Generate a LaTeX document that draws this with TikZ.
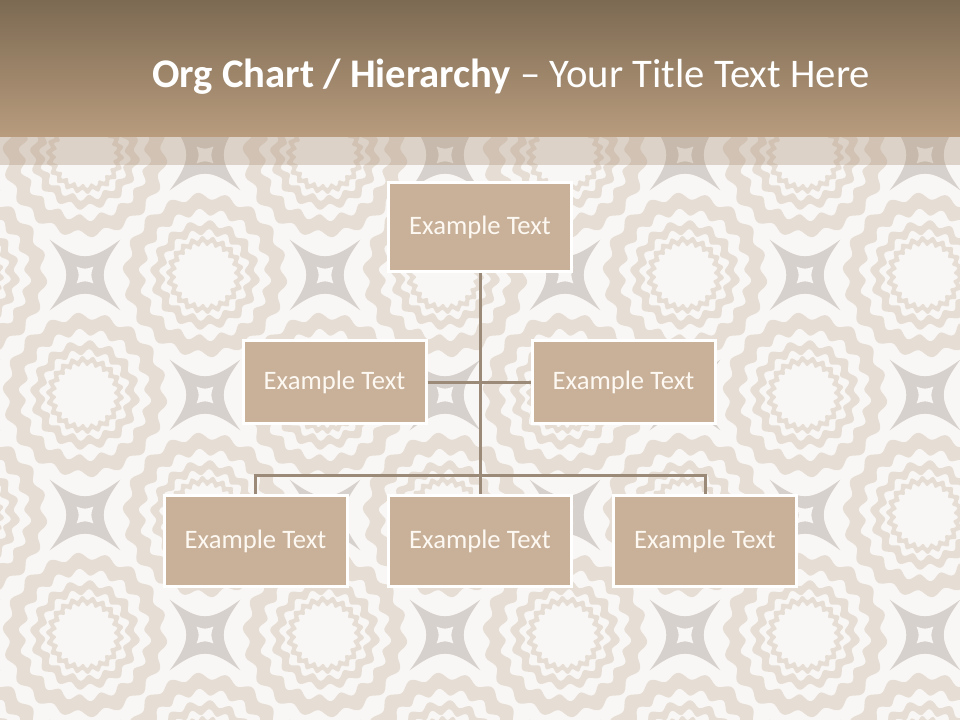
\documentclass[tikz,border=0pt]{standalone}
\usepackage{fontspec}
\setmainfont{Carlito}
\usetikzlibrary{positioning}
\definecolor{pagebg}{RGB}{249,247,245}
\definecolor{ringtan}{RGB}{230,222,213}
\definecolor{stargrey}{RGB}{214,209,204}
\definecolor{headtop}{RGB}{124,106,82}
\definecolor{headbot}{RGB}{185,156,126}
\definecolor{veil}{RGB}{175,150,125}
\definecolor{boxtan}{RGB}{200,176,153}
\definecolor{linktan}{RGB}{155,138,120}
\definecolor{boxtext}{RGB}{253,249,242}

% one wavy ring: outer r, outer amp, inner r, inner amp, bumps
\newcommand\waveband[5]{%
  \fill[ringtan,even odd rule] plot[domain=0:360,samples=181] (\x:{#1+#2*sin(#5*\x)}) -- cycle
    plot[domain=0:360,samples=181] (\x:{#3+#4*sin(#5*\x)}) -- cycle;}
\newcommand\rosette[2]{\begin{scope}[shift={(#1,#2)}]
  \waveband{79}{3.5}{63}{3.5}{18}
  \waveband{52}{3}{43}{3}{16}
  \waveband{37}{2}{31}{2}{22}
\end{scope}}
\newcommand\sparkle[2]{\begin{scope}[shift={(#1,#2)}]
  \fill[stargrey] (45:50) .. controls (70:14) and (110:14) .. (135:50)
    .. controls (160:14) and (200:14) .. (225:50)
    .. controls (250:14) and (290:14) .. (315:50)
    .. controls (340:14) and (20:14) .. (45:50) -- cycle;
  \fill[pagebg] (45:12) .. controls (70:6) and (110:6) .. (135:12)
    .. controls (160:6) and (200:6) .. (225:12)
    .. controls (250:6) and (290:6) .. (315:12)
    .. controls (340:6) and (20:6) .. (45:12) -- cycle;
\end{scope}}

\begin{document}
\begin{tikzpicture}[x=.75pt,y=-.75pt,
    orgbox/.style={draw=white,line width=2.25pt,fill=boxtan,text=boxtext,
      minimum width=137.25pt,inner sep=0pt,font=\fontsize{20}{24}\selectfont},
    link/.style={draw=linktan,line width=2.25pt}]
  \useasboundingbox (0,0) rectangle (960,720);
  % background pattern
  \begin{scope}
    \clip (0,0) rectangle (960,720);
    \fill[pagebg] (0,0) rectangle (960,720);
    \foreach \px [count=\i] in {-35,85,...,1045}
      \foreach \py [count=\j] in {35,155,...,755}
        {\ifodd\numexpr\i+\j\relax \sparkle{\px}{\py}\else \rosette{\px}{\py}\fi}
  \end{scope}
  % title band
  \shade[top color=headtop,bottom color=headbot] (0,0) rectangle (960,137);
  \fill[veil,opacity=.38] (0,137) rectangle (960,165);
  \node[anchor=base west,text=white,inner sep=0pt,font=\fontsize{30.5}{36}\selectfont] (title) at (152,88)
    {\textbf{Org Chart / Hierarchy} – Your Title Text Here};

  % org chart
  \node[orgbox,minimum height=66.75pt] (head) at (480,227) {Example Text};
  \node[orgbox,minimum height=62.25pt] (left) at (334.5,382) {Example Text};
  \node[orgbox,minimum height=62.25pt] (right) at (623.5,382) {Example Text};
  \node[orgbox,minimum height=68.25pt] (kid1) at (255.5,541) {Example Text};
  \node[orgbox,minimum height=68.25pt] (kid2) at (480,541) {Example Text};
  \node[orgbox,minimum height=68.25pt] (kid3) at (705,541) {Example Text};
  \coordinate (bus) at (480,475);
  \draw[link] (head.south) -- (kid2.north);
  \draw[link] (left.east) -- (right.west);
  \draw[link] (kid1.north) |- (bus) -| (kid3.north);
\end{tikzpicture}
\end{document}
